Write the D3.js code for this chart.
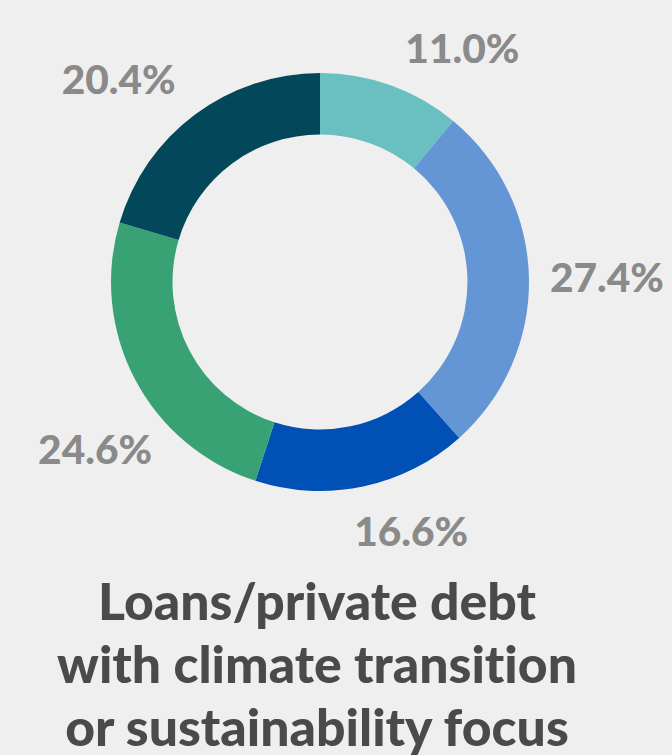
<!DOCTYPE html>
<html>
<head>
<meta charset="utf-8">
<script src="https://cdn.jsdelivr.net/npm/d3@7"></script>
<style>
  html, body { margin: 0; padding: 0; background: #efefef; }
  svg { display: block; }
  text { font-variant-ligatures: none; font-feature-settings: "liga" 0, "clig" 0; }
</style>
</head>
<body>
<svg id="chart" width="672" height="755"></svg>
<script>
// ---- Data ----
const categories = ["Segment 1", "Segment 2", "Segment 3", "Segment 4", "Segment 5"];
const values = [11.0, 27.4, 16.6, 24.6, 20.4];
const valueLabels = ["11.0%", "27.4%", "16.6%", "24.6%", "20.4%"];
const colors = ["#6abfc1", "#6495d5", "#0050b5", "#38a275", "#02485a"];
const titleLines = ["Loans/private debt", "with climate transition", "or sustainability focus"];

// ---- Layout ----
const W = 672, H = 755;
const cx = 320, cy = 282;
const outerR = 209, innerR = 147.5;
const labelR = 235;
const FONT = "Lato, 'Open Sans', 'Noto Sans', sans-serif";
const WEIGHT = 900;

const svg = d3.select("#chart");
svg.append("rect").attr("width", W).attr("height", H).attr("fill", "#efefef");

const data = categories.map((c, i) => ({ category: c, value: values[i], label: valueLabels[i], color: colors[i] }));

const pie = d3.pie().value(d => d.value).sort(null);
const arcs = pie(data);
const arc = d3.arc().innerRadius(innerR).outerRadius(outerR);

const g = svg.append("g").attr("transform", `translate(${cx},${cy})`);
g.selectAll("path.slice")
  .data(arcs)
  .join("path")
  .attr("class", "slice")
  .attr("d", arc)
  .attr("fill", d => d.data.color);

// fit a font size so that a sample string has a target width
function fitSize(sample, targetW, base) {
  const t = svg.append("text").attr("font-family", FONT).attr("font-weight", WEIGHT)
    .attr("font-size", base).text(sample);
  const w = t.node().getComputedTextLength();
  t.remove();
  return base * targetW / w;
}
const labelSize = fitSize("20.4%", 114, 40);
const titleSize = fitSize(titleLines[1], 520, 48);

// label placement: nearest corner of the label box sits on a ring around the slice's mid angle
// (small angular nudges reproduce the source's label layout)
const angleShiftDeg = [1.5, -0.4, 3.5, -14, -0.8];
const radiusShift = [0, -5, 0, -10, 2];
const labelG = g.append("g");
arcs.forEach((a, i) => {
  const mid = (a.startAngle + a.endAngle) / 2 + angleShiftDeg[i] * Math.PI / 180;
  const r = labelR + radiusShift[i];
  const x = r * Math.sin(mid);
  const y = -r * Math.cos(mid);
  const t = labelG.append("text")
    .attr("x", x)
    .attr("y", y)
    .attr("font-family", FONT)
    .attr("font-weight", WEIGHT)
    .attr("font-size", labelSize)
    .attr("fill", "#8a8a8a")
    .text(a.data.label);
  const sx = Math.sin(mid), cyv = Math.cos(mid);
  t.attr("text-anchor", Math.abs(sx) < 0.05 ? "middle" : (sx > 0 ? "start" : "end"));
  if (Math.abs(cyv) < 0.2) t.attr("dominant-baseline", "central");
  else if (cyv > 0) t.attr("dominant-baseline", "alphabetic");
  else t.attr("dominant-baseline", "hanging");
});

// ---- Title ----
const title = svg.append("text")
  .attr("x", 317)
  .attr("y", 620)
  .attr("text-anchor", "middle")
  .attr("font-family", FONT)
  .attr("font-weight", WEIGHT)
  .attr("font-size", titleSize)
  .attr("fill", "#4a4a4a");
titleLines.forEach((line, i) => {
  title.append("tspan").attr("x", 317).attr("dy", i === 0 ? 0 : 63).text(line);
});
</script>
</body>
</html>
